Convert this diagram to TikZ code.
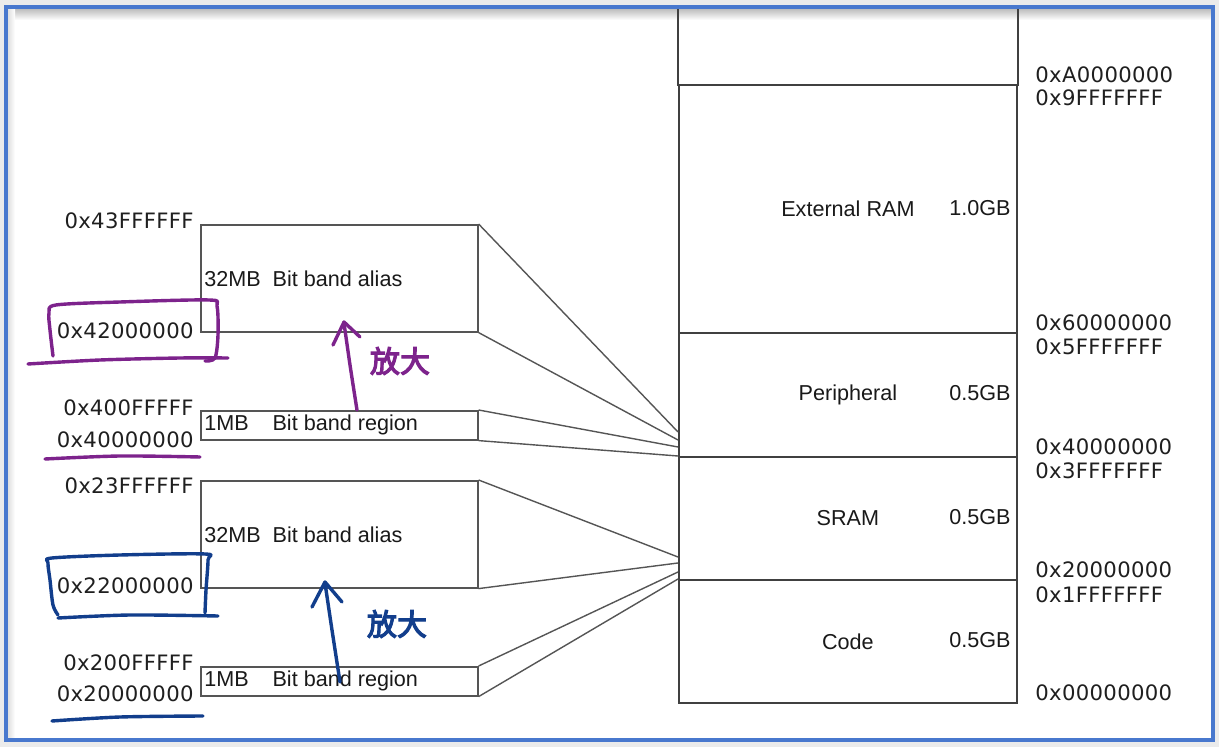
\documentclass[tikz,border=0pt]{standalone}
\usepackage{fontspec}
\setmainfont{Liberation Sans}
\newfontfamily\addrfont[LetterSpace=1.5]{DejaVu Sans}
\newfontfamily\cjkfont[FakeBold=4]{Noto Sans CJK SC}
\definecolor{frameblue}{RGB}{72,120,206}
\definecolor{penpurple}{RGB}{125,35,140}
\definecolor{penblue}{RGB}{18,62,140}
\definecolor{linegray}{RGB}{85,85,85}
\begin{document}
\begin{tikzpicture}[x=0.5pt,y=-0.5pt,
  addr/.style={font=\addrfont\fontsize{10.6pt}{12pt}\selectfont, text=black!88, inner sep=0pt},
  lbl/.style={font=\fontsize{10.8pt}{13pt}\selectfont, text=black!90, inner sep=0pt},
  memreg/.style={draw=black!75, line width=0.9pt, minimum width=169pt, inner sep=0pt, anchor=north west, font=\fontsize{10.8pt}{13pt}\selectfont, text=black!90},
  bandbox/.style={draw=linegray, line width=0.8pt, minimum width=138.5pt, inner sep=0pt, anchor=north west},
  fan/.style={draw=linegray, line width=0.7pt},
  pen/.style={line width=1.7pt, line cap=round, line join=round},
  hand/.style={font=\cjkfont\fontsize{15pt}{16pt}\selectfont, inner sep=0pt}]
\useasboundingbox (0,0) rectangle (1219,747);
\fill[black!8] (0,0) rectangle (1219,747);
\fill[white] (6,7) rectangle (1213,740);
\shade[top color=black!28, bottom color=white] (7,8) rectangle (1212,20);
\shade[left color=black!14, right color=white] (7,8) rectangle (15,739);

% memory map column
\node[memreg, draw=none, minimum height=37.5pt] (top) at (678,9) {};
\draw[black!75, line width=0.9pt] (top.north west) -- (top.south west) (top.north east) -- (top.south east);
\node[memreg, minimum height=124pt] (ext) at (678,84) {External RAM};
\node[memreg, minimum height=62pt] (peri) at (678,332) {Peripheral};
\node[memreg, minimum height=61.5pt] (sram) at (678,456) {SRAM};
\node[memreg, minimum height=61.5pt] (code) at (678,579) {Code};
\node[lbl, anchor=east] (s1) at (1011,208) {1.0GB};
\node[lbl, anchor=east] (s2) at (1011,393) {0.5GB};
\node[lbl, anchor=east] (s3) at (1011,517) {0.5GB};
\node[lbl, anchor=east] (s4) at (1011,640) {0.5GB};

% right addresses
\node[addr, anchor=west] (r1) at (1035,74.5) {0xA0000000};
\node[addr, anchor=west] (r2) at (1035,98) {0x9FFFFFFF};
\node[addr, anchor=west] (r3) at (1035,323) {0x60000000};
\node[addr, anchor=west] (r4) at (1035,347) {0x5FFFFFFF};
\node[addr, anchor=west] (r5) at (1035,447) {0x40000000};
\node[addr, anchor=west] (r6) at (1035,471) {0x3FFFFFFF};
\node[addr, anchor=west] (r7) at (1035,570) {0x20000000};
\node[addr, anchor=west] (r8) at (1035,595) {0x1FFFFFFF};
\node[addr, anchor=west] (r9) at (1035,693) {0x00000000};

% bit band boxes
\node[bandbox, minimum height=53.5pt] (a1) at (200,224) {};
\node[bandbox, minimum height=14.5pt] (b1) at (200,410) {};
\node[bandbox, minimum height=53.5pt] (a2) at (200,480) {};
\node[bandbox, minimum height=14.5pt] (b2) at (200,666) {};
\node[lbl, anchor=west] (ta1) at ([xshift=2pt]a1.west) {32MB\hspace{0.55em}Bit band alias};
\node[lbl, anchor=west] (tb1) at ([xshift=2pt]b1.west) {1MB\hspace{1.1em}Bit band region};
\node[lbl, anchor=west] (ta2) at ([xshift=2pt]a2.west) {32MB\hspace{0.55em}Bit band alias};
\node[lbl, anchor=west] (tb2) at ([xshift=2pt]b2.west) {1MB\hspace{1.1em}Bit band region};

% left addresses
\node[addr, anchor=east] (l1) at (194,221) {0x43FFFFFF};
\node[addr, anchor=east] (l2) at (194,331) {0x42000000};
\node[addr, anchor=east] (l3) at (194,408) {0x400FFFFF};
\node[addr, anchor=east] (l4) at (194,440) {0x40000000};
\node[addr, anchor=east] (l5) at (194,486) {0x23FFFFFF};
\node[addr, anchor=east] (l6) at (194,586) {0x22000000};
\node[addr, anchor=east] (l7) at (194,663) {0x200FFFFF};
\node[addr, anchor=east] (l8) at (194,694) {0x20000000};

% fan lines
\coordinate (p1) at (678,432);
\coordinate (p2) at (678,440);
\coordinate (p3) at (678,447);
\coordinate (p4) at (678,456);
\coordinate (q1) at (678,557);
\coordinate (q2) at (678,563);
\coordinate (q3) at (678,572);
\coordinate (q4) at (678,579);
\draw[fan] (a1.north east) -- (p1);
\draw[fan] (a1.south east) -- (p2);
\draw[fan] (b1.north east) -- (p3);
\draw[fan] (b1.south east) -- (p4);
\draw[fan] (a2.north east) -- (q1);
\draw[fan] (a2.south east) -- (q2);
\draw[fan] (b2.north east) -- (q3);
\draw[fan] (b2.south east) -- (q4);

% purple annotations
\draw[pen, penpurple] plot[smooth] coordinates {(53,356) (50,330) (49,313) (56,305) (120,302) (209,300) (217,306) (218,335) (215,358) (205,361)};
\draw[pen, penpurple] plot[smooth] coordinates {(28,364) (100,360) (180,358) (228,358)};
\draw[pen, penpurple] plot[smooth] coordinates {(45,459) (120,456) (200,457)};
\draw[pen, penpurple] plot[smooth] coordinates {(357,410) (350,365) (344,323)};
\draw[pen, penpurple] (333,345) -- (344,322) -- (360,337);
\node[hand, text=penpurple] (z1) at (400,361) {放大};

% blue annotations
\draw[pen, penblue] plot[smooth] coordinates {(58,615) (53,605) (50,580) (48,563) (52,558) (120,555) (205,554) (208,560) (206,590) (205,613)};
\draw[pen, penblue] plot[smooth] coordinates {(58,618) (130,615) (218,616)};
\draw[pen, penblue] plot[smooth] coordinates {(52,721) (120,717) (203,716)};
\draw[pen, penblue] plot[smooth] coordinates {(340,682) (332,630) (325,583)};
\draw[pen, penblue] (312,607) -- (325,582) -- (342,602);
\node[hand, text=penblue] (z2) at (397,624) {放大};

% frame
\draw[frameblue, line width=2.2pt] (6,7) rectangle (1213,740);
\end{tikzpicture}
\end{document}
